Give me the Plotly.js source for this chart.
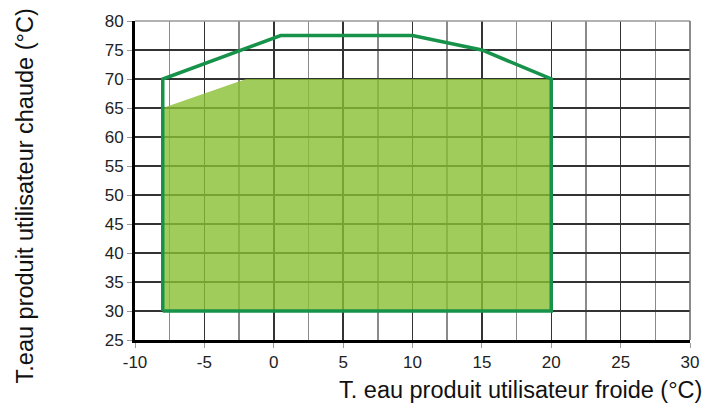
<!DOCTYPE html>
<html><head><meta charset="utf-8">
<script src="https://cdn.plot.ly/plotly-3.0.1.min.js"></script>
<style>html,body{margin:0;padding:0;background:#fff}</style>
</head><body>
<div id="chart" style="width:707px;height:408px"></div>
<script>
// Zone filled (operating area)
const fillX = [-8, -8, -2, 20, 20, -8];
const fillY = [30, 65, 70, 70, 30, 30];
// Envelope outline
const lineX = [-8, -8, 0.5, 10, 15, 20, 20, -8];
const lineY = [30, 70, 77.5, 77.5, 75, 70, 30, 30];

// Tick labels
const xTickVals = [-10, -5, 0, 5, 10, 15, 20, 25, 30];
const xTickText = ["-10", "-5", "0", "5", "10", "15", "20", "25", "30"];
const yTickVals = [25, 30, 35, 40, 45, 50, 55, 60, 65, 70, 75, 80];
const yTickText = ["25", "30", "35", "40", "45", "50", "55", "60", "65", "70", "75", "80"];

const xTitle = "T. eau produit utilisateur froide (°C)";
const yTitle = "T.eau produit utilisateur chaude (°C)";

const font = "Liberation Sans, Arial, sans-serif";

const traces = [
  {x: fillX, y: fillY, type: 'scatter', mode: 'lines', fill: 'toself',
   fillcolor: 'rgba(136,191,51,0.8)', line: {width: 0}, hoverinfo: 'skip'},
  {x: lineX, y: lineY, type: 'scatter', mode: 'lines',
   line: {color: '#17924a', width: 3.5}, hoverinfo: 'skip'}
];

const layout = {
  width: 707, height: 408,
  margin: {l: 135, r: 17, t: 21, b: 68},
  showlegend: false,
  paper_bgcolor: '#fff', plot_bgcolor: '#fff',
  font: {family: font, color: '#222', size: 17},
  xaxis: {
    range: [-10, 30], tickmode: 'array', tickvals: xTickVals, ticktext: xTickText,
    fixedrange: true,
    showgrid: true, gridcolor: '#333', gridwidth: 1.5,
    minor: {dtick: 2.5, tick0: -10, showgrid: true, gridcolor: '#8a8a8a', gridwidth: 1.5},
    zeroline: false, showline: true, linecolor: '#000', linewidth: 3,
    ticks: 'outside', ticklen: 5, tickcolor: '#999',
    tickfont: {family: font, size: 17, color: '#222'}
  },
  yaxis: {
    range: [25, 80], tickmode: 'array', tickvals: yTickVals, ticktext: yTickText,
    fixedrange: true,
    showgrid: true, gridcolor: '#333', gridwidth: 1.5,
    zeroline: false, showline: true, linecolor: '#000', linewidth: 3,
    ticks: 'outside', ticklen: 5, tickcolor: '#999',
    tickfont: {family: font, size: 17, color: '#222'}
  },
  shapes: [
    {type: 'line', xref: 'paper', yref: 'paper', x0: 0, x1: 1, y0: 1, y1: 1,
     line: {color: '#999', width: 1.5}},
    {type: 'line', xref: 'paper', yref: 'paper', x0: 1, x1: 1, y0: 0, y1: 1,
     line: {color: '#666', width: 1.5}}
  ],
  annotations: [
    {text: xTitle, xref: 'paper', yref: 'paper', x: 1.025, y: 0, xanchor: 'right',
     yanchor: 'top', yshift: -35, showarrow: false,
     font: {family: font, size: 23.5, color: '#111'}},
    {text: yTitle, xref: 'paper', yref: 'paper', x: 0, y: 0.45, xanchor: 'right',
     yanchor: 'middle', xshift: -95, textangle: -90, showarrow: false,
     font: {family: font, size: 23.5, color: '#111'}}
  ]
};

Plotly.newPlot('chart', traces, layout, {staticPlot: true, displayModeBar: false});
</script>
</body></html>
